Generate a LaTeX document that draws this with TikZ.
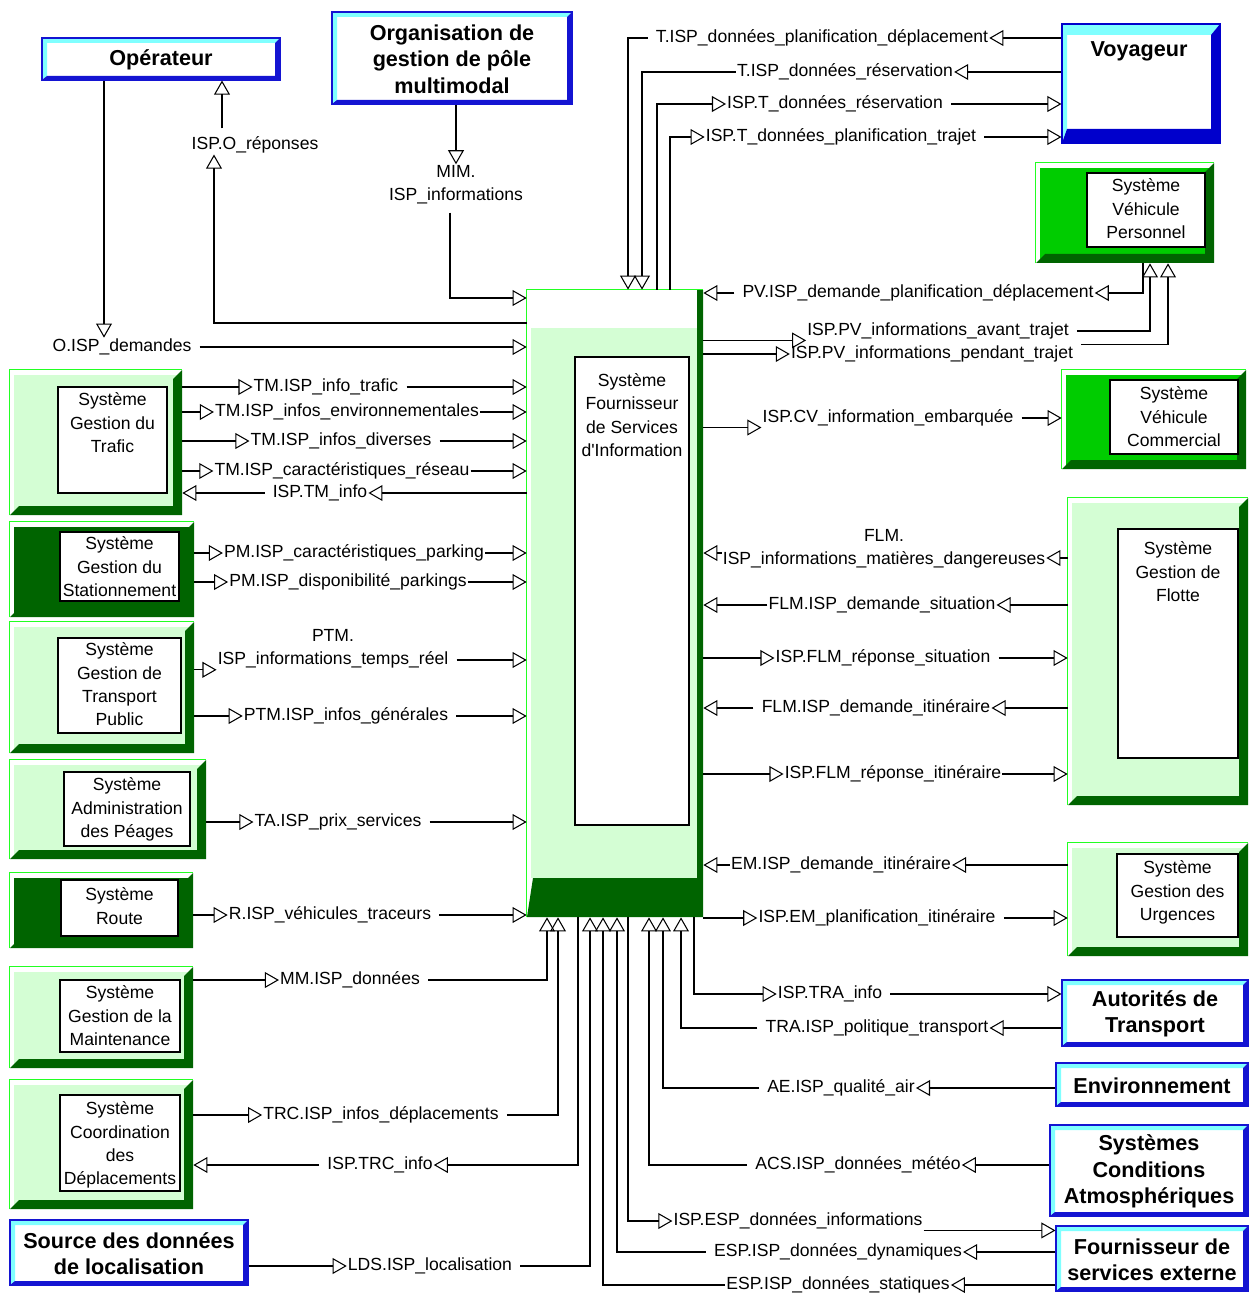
\documentclass[tikz,border=0pt]{standalone}
\usepackage{fontspec}
\setmainfont{Liberation Sans}
\usetikzlibrary{positioning,fit,arrows.meta}

\definecolor{bgreen}{HTML}{22FF22}
\definecolor{lgreen}{HTML}{D4FED4}
\definecolor{mgreen}{HTML}{00CC00}
\definecolor{dgreen}{HTML}{006400}
\definecolor{cyanb}{HTML}{80FFFF}
\definecolor{blueb}{HTML}{1414D2}
\definecolor{voyblue}{HTML}{0000CC}

\newdimen\pxu \pxu=0.02cm
\newcommand\lbfont{\fontsize{10pt}{13.3pt}\selectfont}
\newcommand\ttlfont{\fontsize{12.3pt}{15pt}\selectfont\bfseries}

\tikzset{
  lbl/.style={font=\lbfont, inner sep=0.5pt, align=center},
  boxtxt/.style={font=\lbfont, inner sep=0pt, align=center},
  ttl/.style={font=\ttlfont, inner sep=0pt, align=center},
  inbox/.style={draw=black, fill=white, line width=0.6pt, inner sep=0pt},
  flow/.style={line width=0.6pt, -{Triangle[open,length=8pt,width=9pt,line width=0.6pt]}},
  flowl/.style={flow, shorten <=4pt}
}

% system box: name, x1, y1, x2, y2, face colour
\newcommand\sysbox[6]{%
  \fill[white] (#2,#3) rectangle (#4,#5);
  \fill[#6] (#2+4,#3+5) rectangle (#4,#5);
  \fill[dgreen] (#2,#5) -- (#4,#5) -- (#4,#3) -- (#4-9,#3+9) -- (#4-9,#5-9) -- (#2+9,#5-9) -- cycle;
  \node[fit={(#2,#3) (#4,#5)}, inner sep=0pt] (#1) {};
  \draw[bgreen, line width=0.8pt] (#1.south west) |- (#1.north east);
}
% white box inside: name, x1, y1, x2, y2, gap, text
\newcommand\innerbox[7]{%
  \node[inbox, fit={(#2,#3) (#4,#5)}] (#1) {};
  \node[boxtxt, below=#6 of #1.north] (#1-t) {#7};
}
% terminator: name, x1, y1, x2, y2, text
\newcommand\termbox[6]{%
  \fill[white] (#2,#3) rectangle (#4,#5);
  \fill[cyanb] (#2,#5) -- (#2,#3) -- (#4,#3) -- (#4-5,#3+5) -- (#2+5,#3+5) -- (#2+5,#5-4) -- cycle;
  \fill[blueb] (#2,#5) -- (#4,#5) -- (#4,#3) -- (#4-5,#3+5) -- (#4-5,#5-4) -- (#2+5,#5-4) -- cycle;
  \node[fit={(#2,#3) (#4,#5)}, inner sep=0pt, draw=blueb, line width=0.6pt] (#1) {};
  \node[ttl, yshift=-0.6pt] (#1-t) at (#1) {#6};
}

\begin{document}
\begin{tikzpicture}[x=0.02cm,y=-0.02cm]
\useasboundingbox (0,0) rectangle (1248,1297);

% Terminators
\termbox{op}{42}{38}{280}{80}{Opérateur}
\termbox{mim}{332}{12}{572}{104}{Organisation de\\gestion de pôle\\multimodal}
\termbox{lds}{10}{1220}{248}{1285}{Source des données\\de localisation}
\termbox{tra}{1062}{980}{1248}{1046}{Autorités de\\Transport}
\termbox{ae}{1056}{1063}{1248}{1106}{Environnement}
\termbox{acs}{1050}{1125}{1248}{1216}{Systèmes\\Conditions\\Atmosphériques}
\termbox{esp}{1056}{1226}{1248}{1291}{Fournisseur de\\services externe}

% Voyageur
\fill[white] (1062,24) rectangle (1220,143);
\fill[cyanb] (1062,143) -- (1062,24) -- (1220,24) -- (1211,35) -- (1067,35) -- (1067,129) -- cycle;
\fill[voyblue] (1062,143) -- (1220,143) -- (1220,24) -- (1211,35) -- (1211,129) -- (1067,129) -- cycle;
\node[fit={(1062,24) (1220,143)}, inner sep=0pt, draw=voyblue, line width=0.6pt] (voy) {};
\node[ttl] (voy-t) at (1139,51) {Voyageur};

% Left systems
\sysbox{tm}{10}{370}{182}{515}{lgreen}
\innerbox{tm-in}{58}{387}{167}{493}{3.4pt}{Système\\Gestion du\\Trafic}
\sysbox{pm}{10}{522}{194}{617}{dgreen}
\innerbox{pm-in}{60}{532}{179}{601}{2.8pt}{Système\\Gestion du\\Stationnement}
\sysbox{ptm}{10}{622}{194}{753}{lgreen}
\innerbox{ptm-in}{58}{638}{181}{733}{2.8pt}{Système\\Gestion de\\Transport\\Public}
\sysbox{ta}{10}{760}{206}{859}{lgreen}
\innerbox{ta-in}{64}{772}{190}{846}{3.4pt}{Système\\Administration\\des Péages}
\sysbox{rt}{10}{873}{193}{948}{dgreen}
\innerbox{rt-in}{61}{880}{178}{936}{4.5pt}{Système\\Route}
\sysbox{mm}{10}{967}{193}{1068}{lgreen}
\innerbox{mm-in}{60}{980}{180}{1052}{3.4pt}{Système\\Gestion de la\\Maintenance}
\sysbox{trc}{10}{1080}{193}{1209}{lgreen}
\innerbox{trc-in}{60}{1095}{180}{1191}{4pt}{Système\\Coordination\\des\\Déplacements}

% Right systems
\sysbox{pv}{1036}{163}{1214}{263}{mgreen}
\innerbox{pv-in}{1087}{173}{1205}{247}{3.4pt}{Système\\Véhicule\\Personnel}
\sysbox{cv}{1062}{370}{1246}{469}{mgreen}
\innerbox{cv-in}{1110}{380}{1238}{454}{4pt}{Système\\Véhicule\\Commercial}
\sysbox{flm}{1068}{498}{1248}{805}{lgreen}
\innerbox{flm-in}{1118}{529}{1238}{758}{7.4pt}{Système\\Gestion de\\Flotte}
\sysbox{em}{1068}{843}{1248}{956}{lgreen}
\innerbox{em-in}{1117}{854}{1238}{937}{4pt}{Système\\Gestion des\\Urgences}

% Central system
\fill[white] (527,290) rectangle (703,917);
\fill[lgreen] (531,328) rectangle (697,878);
\fill[dgreen] (527,917) -- (533,878) -- (697,878) -- (697,290) -- (703,290) -- (703,917) -- cycle;
\node[fit={(527,290) (703,917)}, inner sep=0pt] (isp) {};
\draw[bgreen, line width=0.8pt] (isp.south west) |- (isp.north east);
\innerbox{isp-in}{575}{357}{689}{825}{9.6pt}{Système\\Fournisseur\\de Services\\d\textquotesingle Information}

% Opérateur and pôle multimodal
\node[lbl] (odem) at (122,347) {O.ISP\_demandes};
\draw[flow] (op.south -| 104,0) -- (odem.north -| 104,0);
\draw[flowl] (odem.east) -- (isp.west |- odem.east);
\node[lbl] (ores) at (255,145) {ISP.O\_réponses};
\draw[flow] (isp.west |- 0,323) -| (ores.south -| 214,0);
\draw[flowl] (ores.north -| 222,0) -- (op.south -| 222,0);
\node[lbl] (mimi) at (456,185) {MIM.\\ISP\_informations};
\draw[flow] (mim.south -| mimi.north) -- (mimi.north);
\draw[flowl] (mimi.south -| 450,0) |- (isp.west |- 0,298);

% Voyageur flows
\node[lbl] (tpd) at (822,38) {T.ISP\_données\_planification\_déplacement};
\draw[flow] (voy.west |- tpd) -- (tpd.east);
\draw[flowl] (tpd.west) -| (isp.north -| 628,0);
\node[lbl] (trs) at (845,72) {T.ISP\_données\_réservation};
\draw[flow] (voy.west |- trs) -- (trs.east);
\draw[flow] (trs.west) -| (isp.north -| 642,0);
\node[lbl] (irs) at (835,104) {ISP.T\_données\_réservation};
\draw[flow] (isp.north -| 657,0) |- (irs.west);
\draw[flowl] (irs.east) -- (voy.west |- irs.east);
\node[lbl] (ipt) at (841,137) {ISP.T\_données\_planification\_trajet};
\draw[flow] (isp.north -| 670,0) |- (ipt.west);
\draw[flowl] (ipt.east) -- (voy.west |- ipt.east);

% Véhicules
\node[lbl] (pvd) at (918,293) {PV.ISP\_demande\_planification\_déplacement};
\draw[flow] (pv.south -| 1143,0) |- (pvd.east);
\draw[flowl] (pvd.west) -- (isp.east |- pvd.west);
\node[lbl] (pva) at (938,331) {ISP.PV\_informations\_avant\_trajet};
\draw[flow] (isp.east |- pva.south west) -- (pva.south west);
\draw[flowl] (pva.east) -| (pv.south -| 1150,0);
\node[lbl] (pvp) at (932,354) {ISP.PV\_informations\_pendant\_trajet};
\draw[flow] (isp.east |- pvp) -- (pvp.west);
\draw[flowl] (pvp.north east) -| (pv.south -| 1168,0);
\node[lbl] (cvi) at (888,418) {ISP.CV\_information\_embarquée};
\draw[flow] (isp.east |- cvi.south west) -- (cvi.south west);
\draw[flowl] (cvi.east) -- (cv.west |- cvi.east);

% Flotte
\node[lbl] (fmd) at (884,549) {FLM.\\ISP\_informations\_matières\_dangereuses};
\draw[flow] (flm.west |- 0,558) -- ([yshift=-9\pxu]fmd.east);
\draw[flow] ([yshift=-4\pxu]fmd.west) -- (isp.east |- 0,553);
\node[lbl] (fds) at (882,605) {FLM.ISP\_demande\_situation};
\draw[flow] (flm.west |- fds) -- (fds.east);
\draw[flow] (fds.west) -- (isp.east |- fds.west);
\node[lbl] (frs) at (883,658) {ISP.FLM\_réponse\_situation};
\draw[flow] (isp.east |- frs) -- (frs.west);
\draw[flowl] (frs.east) -- (flm.west |- frs.east);
\node[lbl] (fdi) at (876,708) {FLM.ISP\_demande\_itinéraire};
\draw[flow] (flm.west |- fdi) -- (fdi.east);
\draw[flowl] (fdi.west) -- (isp.east |- fdi.west);
\node[lbl] (fri) at (893,774) {ISP.FLM\_réponse\_itinéraire};
\draw[flow] (isp.east |- fri) -- (fri.west);
\draw[flow] (fri.east) -- (flm.west |- fri.east);

% Urgences
\node[lbl] (edi) at (841,865) {EM.ISP\_demande\_itinéraire};
\draw[flow] (em.west |- edi) -- (edi.east);
\draw[flow] (edi.west) -- (isp.east |- edi.west);
\node[lbl] (epi) at (877,918) {ISP.EM\_planification\_itinéraire};
\draw[flow] (isp.east |- epi) -- (epi.west);
\draw[flowl] (epi.east) -- (em.west |- epi.east);

% Under the central system, right
\node[lbl] (tri) at (830,994) {ISP.TRA\_info};
\draw[flow] (isp.south -| 694,0) |- (tri.west);
\draw[flowl] (tri.east) -- (tra.west |- tri.east);
\node[lbl] (trp) at (877,1028) {TRA.ISP\_politique\_transport};
\draw[flow] (tra.west |- trp) -- (trp.east);
\draw[flowl] (trp.west) -| (isp.south -| 681,0);
\node[lbl] (aeq) at (841,1088) {AE.ISP\_qualité\_air};
\draw[flow] (ae.west |- aeq) -- (aeq.east);
\draw[flowl] (aeq.west) -| (isp.south -| 663,0);
\node[lbl] (acm) at (858,1165) {ACS.ISP\_données\_météo};
\draw[flow] (acs.west |- acm) -- (acm.east);
\draw[flowl] (acm.west) -| (isp.south -| 649,0);
\node[lbl] (esi) at (798,1221) {ISP.ESP\_données\_informations};
\draw[flow] (isp.south -| 628,0) |- (esi.west);
\draw[flow] (esi.south east) -- (esp.west |- esi.south east);
\node[lbl] (esd) at (838,1252) {ESP.ISP\_données\_dynamiques};
\draw[flow] (esp.west |- esd) -- (esd.east);
\draw[flowl] (esd.west) -| (isp.south -| 617,0);
\node[lbl] (ess) at (838,1285) {ESP.ISP\_données\_statiques};
\draw[flow] (esp.west |- ess) -- (ess.east);
\draw[flow] (ess.west) -| (isp.south -| 603,0);

% Left flows
\node[lbl] (tmt) at (326,387) {TM.ISP\_info\_trafic};
\draw[flow] (tm.east |- tmt) -- (tmt.west);
\draw[flowl] (tmt.east) -- (isp.west |- tmt.east);
\node[lbl] (tme) at (347,412) {TM.ISP\_infos\_environnementales};
\draw[flow] (tm.east |- tme) -- (tme.west);
\draw[flow] (tme.east) -- (isp.west |- tme.east);
\node[lbl] (tmd) at (341,441) {TM.ISP\_infos\_diverses};
\draw[flow] (tm.east |- tmd) -- (tmd.west);
\draw[flowl] (tmd.east) -- (isp.west |- tmd.east);
\node[lbl] (tmc) at (342,471) {TM.ISP\_caractéristiques\_réseau};
\draw[flow] (tm.east |- tmc) -- (tmc.west);
\draw[flow] (tmc.east) -- (isp.west |- tmc.east);
\node[lbl] (itm) at (320,493) {ISP.TM\_info};
\draw[flow] (isp.west |- itm) -- (itm.east);
\draw[flowl] (itm.west) -- (tm.east |- itm.west);

\node[lbl] (pmc) at (354,553) {PM.ISP\_caractéristiques\_parking};
\draw[flow] (pm.east |- pmc) -- (pmc.west);
\draw[flow] (pmc.east) -- (isp.west |- pmc.east);
\node[lbl] (pmd) at (348,582) {PM.ISP\_disponibilité\_parkings};
\draw[flow] (pm.east |- pmd) -- (pmd.west);
\draw[flow] (pmd.east) -- (isp.west |- pmd.east);

\node[lbl] (ptr) at (333,649) {PTM.\\ISP\_informations\_temps\_réel};
\draw[flow] (ptm.east |- ptr.south west) -- (ptr.south west);
\draw[flowl] ([yshift=-11\pxu]ptr.east) -- (isp.west |- 0,660);
\node[lbl] (ptg) at (346,716) {PTM.ISP\_infos\_générales};
\draw[flow] (ptm.east |- ptg) -- (ptg.west);
\draw[flowl] (ptg.east) -- (isp.west |- ptg.east);

\node[lbl] (tap) at (338,822) {TA.ISP\_prix\_services};
\draw[flow] (ta.east |- tap) -- (tap.west);
\draw[flowl] (tap.east) -- (isp.west |- tap.east);
\node[lbl] (rvt) at (330,915) {R.ISP\_véhicules\_traceurs};
\draw[flow] (rt.east |- rvt) -- (rvt.west);
\draw[flowl] (rvt.east) -- (isp.west |- rvt.east);

% Under the central system, left
\node[lbl] (mmd) at (350,980) {MM.ISP\_données};
\draw[flow] (mm.east |- mmd) -- (mmd.west);
\draw[flowl] (mmd.east) -| (isp.south -| 547,0);
\node[lbl] (trd) at (381,1115) {TRC.ISP\_infos\_déplacements};
\draw[flow] (trc.east |- trd) -- (trd.west);
\draw[flowl] (trd.east) -| (isp.south -| 558,0);
\node[lbl] (itc) at (380,1165) {ISP.TRC\_info};
\draw[flow] (isp.south -| 578,0) |- (itc.east);
\draw[flowl] (itc.west) -- (trc.east |- itc.west);
\node[lbl] (ldl) at (430,1266) {LDS.ISP\_localisation};
\draw[flow] (lds.east |- ldl) -- (ldl.west);
\draw[flowl] (ldl.east) -| (isp.south -| 590,0);
\end{tikzpicture}
\end{document}
